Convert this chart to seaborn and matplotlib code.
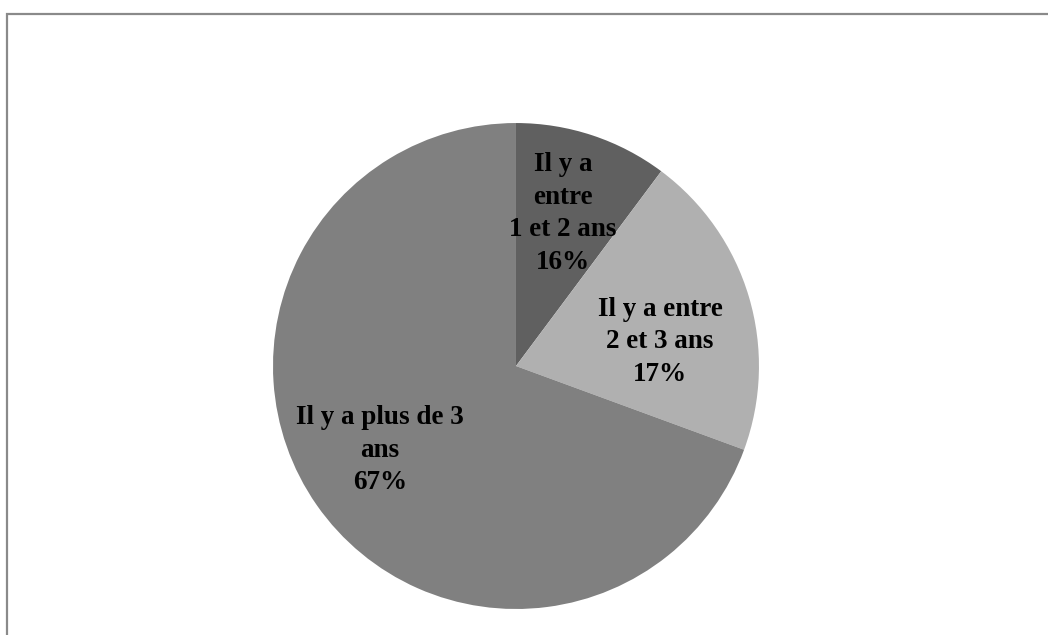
import matplotlib
matplotlib.use("Agg")
import matplotlib.pyplot as plt
import seaborn as sns
from matplotlib.patches import Rectangle

# slice sizes as drawn, and the labels printed on them
categories = ["Il y a\nentre\n1 et 2 ans", "Il y a entre\n2 et 3 ans", "Il y a plus de 3\nans"]
values = [10.2, 20.4, 69.4]
pct_labels = ["16%", "17%", "67%"]
colors = ["#606060", "#b0b0b0", "#808080"]

sns.set_theme(style="white")
plt.rcParams["font.family"] = ["Liberation Serif", "DejaVu Serif"]

fig = plt.figure(figsize=(10.48, 6.35), dpi=100)
ax = fig.add_axes([0.2605, 0.0409, 0.4637, 0.7654])

wedges, _ = ax.pie(values, colors=colors, startangle=90, counterclock=False,
                   radius=1, wedgeprops=dict(linewidth=0))
ax.set_xlim(-1, 1)
ax.set_ylim(-1, 1)
ax.set_aspect("equal")
ax.axis("off")

# label positions inside each slice
label_pos = [(0.193, 0.627), (0.593, 0.099), (-0.56, -0.346)]
for (x, y), cat, pct in zip(label_pos, categories, pct_labels):
    ax.text(x, y, cat + "\n" + pct, ha="center", va="center", fontsize=19.5,
            fontweight="bold", color="black", linespacing=1.4)

# chart frame (right and bottom edges fall outside the picture)
fig.patches.append(Rectangle((6.5 / 1048, -0.05), 1.1, 1 - 13.5 / 635 + 0.05,
                             transform=fig.transFigure, fill=False,
                             edgecolor="#8a8a8a", linewidth=1.6))

fig.savefig("out.png", dpi=100, facecolor="white")
